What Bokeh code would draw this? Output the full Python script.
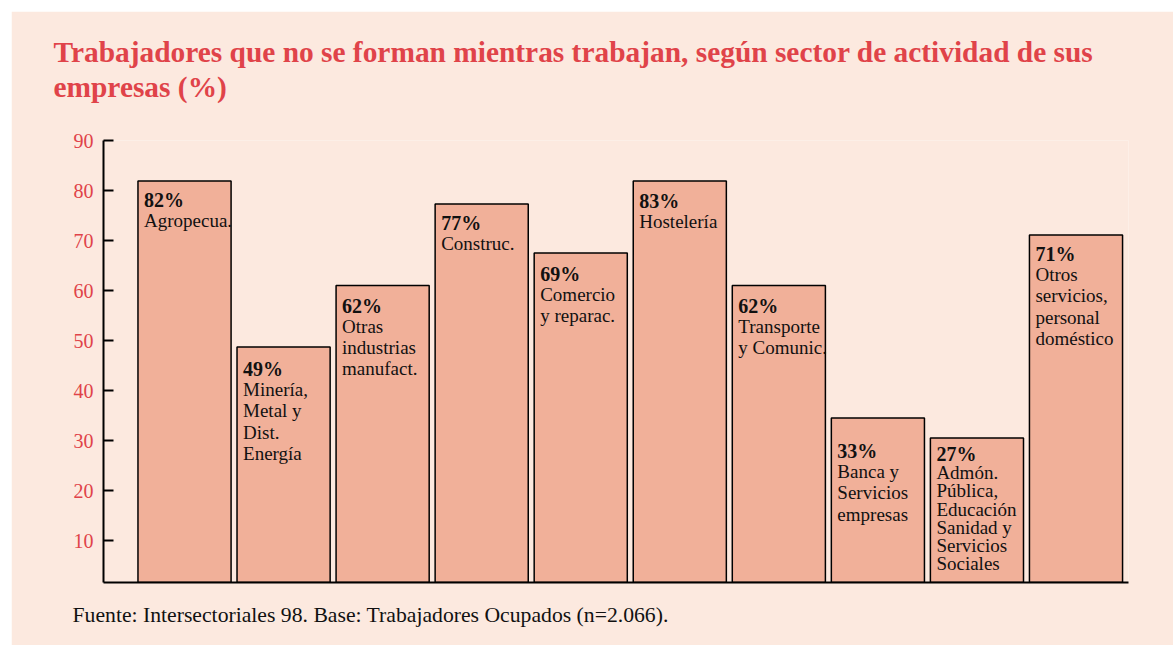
from bokeh.plotting import figure
from bokeh.models import Range1d, FixedTicker, Title, ColumnDataSource
from bokeh.core.properties import value
from bokeh.embed import file_html
from bokeh.resources import INLINE

# ---------------- data ----------------
sectors = [
    "Agropecua.",
    "Minería,\nMetal y\nDist.\nEnergía",
    "Otras\nindustrias\nmanufact.",
    "Construc.",
    "Comercio\ny reparac.",
    "Hostelería",
    "Transporte\ny Comunic.",
    "Banca y\nServicios\nempresas",
    "Admón.\nPública,\nEducación\nSanidad y\nServicios\nSociales",
    "Otros\nservicios,\npersonal\ndoméstico",
]
pct_labels = ["82%", "49%", "62%", "77%", "69%", "83%", "62%", "33%", "27%", "71%"]
bar_heights = [81.9, 48.7, 61.0, 77.3, 67.5, 81.9, 61.0, 34.5, 30.5, 71.1]
y_ticks = [10, 20, 30, 40, 50, 60, 70, 80, 90]

title_lines = ["Trabajadores que no se forman mientras trabajan, según sector de actividad de sus",
               "empresas (%)"]
source_note = "Fuente: Intersectoriales 98. Base: Trabajadores Ocupados (n=2.066)."

# ---------------- style ----------------
BG = "#fce9df"
BAR = "#f1b099"
RED = "#e04349"
SERIF = "Liberation Serif"
BAR_W = 0.94
Y0 = 1.6

# label placement (pixels below bar top) -- annotation layout
pct_gap = [8, 11, 9, 8, 10, 9, 9, 22, 5, 8]
name_step = 21

p = figure(width=1162, height=634, x_range=Range1d(-0.818, 9.53), y_range=Range1d(Y0, 90),
           output_backend="svg", toolbar_location=None,
           min_border_left=92, min_border_right=45, min_border_top=129, min_border_bottom=63)
p.margin = (11, 0, 0, 11)
p.background_fill_color = BG
p.border_fill_color = BG
p.outline_line_color = None
p.xgrid.visible = False
p.ygrid.visible = False

# spacer between title and plot frame (nearest to frame)
p.add_layout(Title(text=" ", text_font_size="1px", standoff=34), "above")

# title (two lines)
p.title.text = "\n".join(title_lines)
p.title.align = "left"
p.title.offset = -50
p.title.standoff = 0
p.title.text_font = SERIF
p.title.text_font_style = "bold"
p.title.text_font_size = "29.4px"
p.title.text_line_height = 1.1
p.title.text_color = RED

# axes
p.yaxis.ticker = FixedTicker(ticks=y_ticks)
p.yaxis.minor_tick_line_color = None
p.yaxis.major_tick_in = 10
p.yaxis.major_tick_out = 0
p.yaxis.major_tick_line_width = 2
p.yaxis.major_tick_line_color = "black"
p.yaxis.axis_line_width = 2
p.yaxis.axis_line_color = "black"
p.yaxis.major_label_text_font = SERIF
p.yaxis.major_label_text_font_size = "20px"
p.yaxis.major_label_text_color = RED
p.yaxis.major_label_standoff = 10

p.xaxis.ticker = FixedTicker(ticks=[])
p.xaxis.minor_tick_line_color = None
p.xaxis.major_tick_line_color = None
p.xaxis.major_label_text_font_size = "0px"
p.xaxis.axis_line_width = 2
p.xaxis.axis_line_color = "black"

# source note
p.add_layout(Title(text=source_note, align="left", offset=-31, standoff=37,
                   text_font=SERIF, text_font_style="normal", text_font_size="21.7px",
                   text_color="#111111"), "below")

n = len(sectors)
idx = list(range(n))
left = [i - BAR_W / 2 for i in idx]

src = ColumnDataSource(dict(
    x=idx, left=left, top=bar_heights, pct=pct_labels, name=sectors,
    pct_off=pct_gap,
))

p.vbar(x="x", top="top", bottom=Y0, width=BAR_W, source=src,
       fill_color=BAR, line_color="black", line_width=1.5)

p.text(x="left", y="top", text="pct", source=src, x_offset=6, y_offset="pct_off",
       text_font=value(SERIF), text_font_style="bold", text_font_size="20px",
       text_color="#111111", text_baseline="top", text_align="left")

main_idx = [i for i in idx if i != 8]
src_main = ColumnDataSource(dict(
    left=[left[i] for i in main_idx], top=[bar_heights[i] for i in main_idx],
    name=[sectors[i] for i in main_idx], off=[pct_gap[i] + name_step for i in main_idx]))
p.text(x="left", y="top", text="name", source=src_main, x_offset=6, y_offset="off",
       text_font=value(SERIF), text_font_size="19px", text_line_height=1.02,
       text_color="#111111", text_baseline="top", text_align="left")

src_tight = ColumnDataSource(dict(
    left=[left[8]], top=[bar_heights[8]], name=[sectors[8]], off=[pct_gap[8] + 19]))
p.text(x="left", y="top", text="name", source=src_tight, x_offset=6, y_offset="off",
       text_font=value(SERIF), text_font_size="19px", text_line_height=0.87,
       text_color="#111111", text_baseline="top", text_align="left")

open("out.html", "w").write(file_html(p, INLINE))
